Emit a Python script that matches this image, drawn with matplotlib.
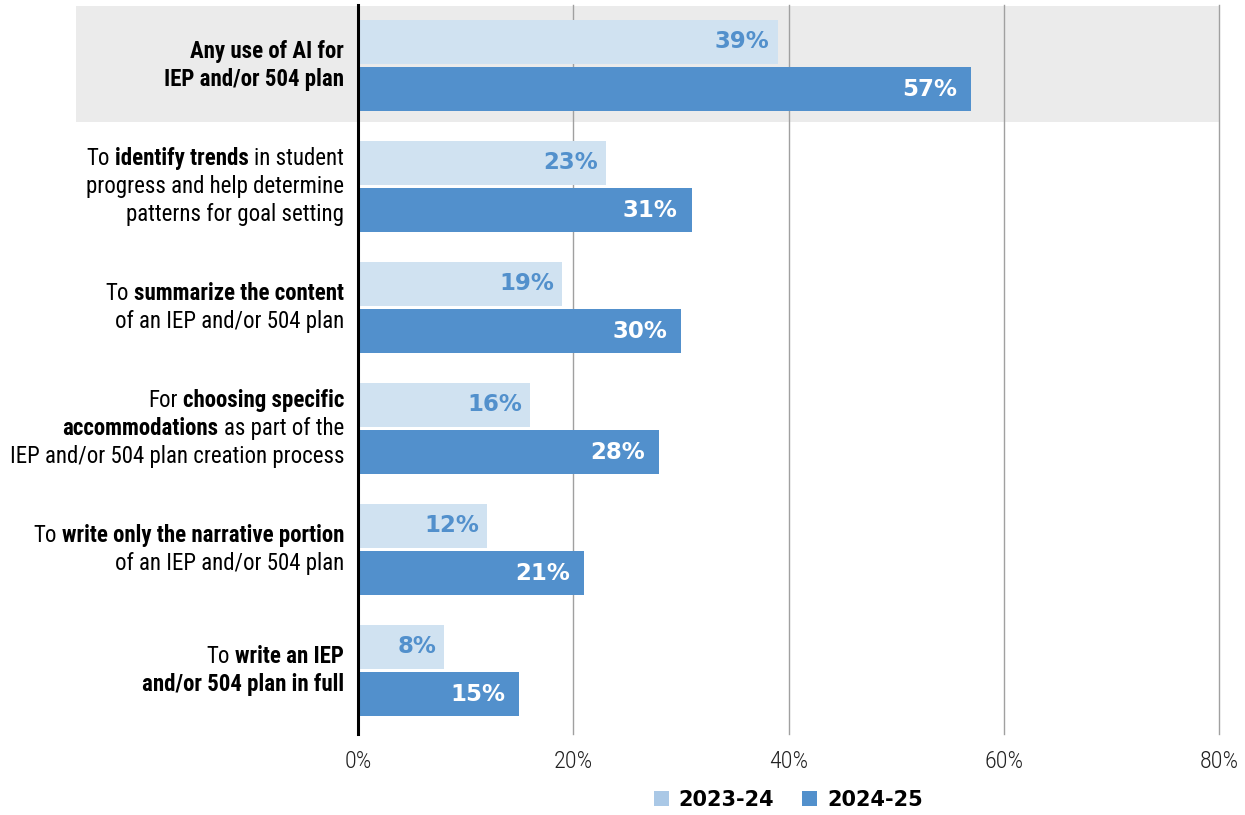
import matplotlib
matplotlib.use("Agg")
import matplotlib.pyplot as plt
from matplotlib import font_manager
from matplotlib.patches import Rectangle, Patch
import matplotlib.transforms as mtransforms

# ---------------- data ----------------
labels = [
    [[("Any use of AI for", True)], [("IEP and/or 504 plan", True)]],
    [[("To", False), ("identify trends", True), ("in student", False)],
     [("progress and help determine", False)],
     [("patterns for goal setting", False)]],
    [[("To", False), ("summarize the content", True)],
     [("of an IEP and/or 504 plan", False)]],
    [[("For", False), ("choosing specific", True)],
     [("accommodations", True), ("as part of the", False)],
     [("IEP and/or 504 plan creation process", False)]],
    [[("To", False), ("write only the narrative portion", True)],
     [("of an IEP and/or 504 plan", False)]],
    [[("To", False), ("write an IEP", True)],
     [("and/or 504 plan in full", True)]],
]
values_2023 = [39, 23, 19, 16, 12, 8]
values_2024 = [57, 31, 30, 28, 21, 15]
series_names = ["2023-24", "2024-25"]
xticks = [0, 20, 40, 60, 80]
xticklabels = ["0%", "20%", "40%", "60%", "80%"]

# ---------------- fonts ----------------
avail = {f.name for f in font_manager.fontManager.ttflist}
cond_font = "Roboto Condensed" if "Roboto Condensed" in avail else "Roboto"
value_font = "DejaVu Sans"

W, H = 1245, 815
fig = plt.figure(figsize=(W / 100, H / 100), dpi=100)
ax_left, ax_right, ax_top, ax_bottom = 358, 1219, 5, 731
ax = fig.add_axes([ax_left / W, 1 - ax_bottom / H, (ax_right - ax_left) / W, (ax_bottom - ax_top) / H])

light = "#d0e2f1"
dark = "#5290cc"
legend_light = "#aac8e6"
band = "#ebebeb"

n = len(values_2023)
ypos = list(range(n))
bh = 0.364
off = 0.198

ax.set_xlim(0, 80)
ax.set_ylim(n - 0.5, -0.5)

# grey band highlighting the first category
trans = mtransforms.blended_transform_factory(ax.transAxes, ax.transData)
left_frac = (76 - ax_left) / (ax_right - ax_left)
ax.add_patch(Rectangle((left_frac, -0.49), 1 - left_frac, 0.957, transform=trans,
                       facecolor=band, edgecolor="none", clip_on=False, zorder=0))

ax.barh([y - off for y in ypos], values_2023, height=bh, color=light, zorder=2)
ax.barh([y + off for y in ypos], values_2024, height=bh, color=dark, zorder=2)

for y, v in zip(ypos, values_2023):
    ax.annotate(f"{v}%", (v, y - off), xytext=(-8, 0), textcoords="offset pixels",
                ha="right", va="center", color=dark, fontsize=16.5, fontweight="bold",
                family=value_font, zorder=3)
for y, v in zip(ypos, values_2024):
    ax.annotate(f"{v}%", (v, y + off), xytext=(-14, 0), textcoords="offset pixels",
                ha="right", va="center", color="white", fontsize=16.5, fontweight="bold",
                family=value_font, zorder=3)

# grid and axes
ax.set_xticks(xticks)
ax.set_xticklabels(xticklabels, family=cond_font, fontsize=17.5, fontweight="light", color="#222222")
ax.tick_params(axis="x", length=0, pad=14)
ax.set_yticks([])
for x in xticks[1:]:
    ax.axvline(x, color="#a0a0a0", lw=1.0, zorder=1, ymin=-0.004, clip_on=False)
ax.axvline(0, color="black", lw=2.2, zorder=4, ymin=-0.004, clip_on=False)
for s in ax.spines.values():
    s.set_visible(False)
ax.patch.set_alpha(0)

# category labels with mixed weight
fig.canvas.draw()
renderer = fig.canvas.get_renderer()
label_size = 16.5


def text_width(s, weight):
    t = fig.text(0, 0, s, family=cond_font, fontsize=label_size, fontweight=weight)
    w = t.get_window_extent(renderer).width
    t.remove()
    return w


space_w = text_width("x x", "normal") - text_width("xx", "normal")
right_px = 344
line_gap = 28
for gi, lines in enumerate(labels):
    cy_disp = ax.transData.transform((0, gi))[1]
    nl = len(lines)
    for li, segs in enumerate(lines):
        y_disp = cy_disp + ((nl - 1) / 2 - li) * line_gap
        x = right_px
        for s, b in reversed(segs):
            weight = "bold" if b else "normal"
            t = fig.text(x / W, y_disp / H, s, ha="right", va="center", family=cond_font,
                         fontsize=label_size, fontweight=weight, color="black")
            w = t.get_window_extent(renderer).width
            x -= w + space_w

# legend
leg_fs = 15
px_per_fs = leg_fs * 100 / 72
handles = [Patch(facecolor=legend_light, edgecolor="none"), Patch(facecolor=dark, edgecolor="none")]
fig.legend(handles, series_names, loc="center",
           bbox_to_anchor=((ax_left + ax_right) / 2 / W, 1 - 799.5 / H),
           ncol=2, frameon=False, prop={"family": value_font, "weight": "bold", "size": leg_fs},
           handlelength=15 / px_per_fs, handleheight=15 / px_per_fs,
           handletextpad=10 / px_per_fs, columnspacing=28 / px_per_fs,
           borderpad=0, borderaxespad=0)

fig.savefig("out.png", dpi=100)
